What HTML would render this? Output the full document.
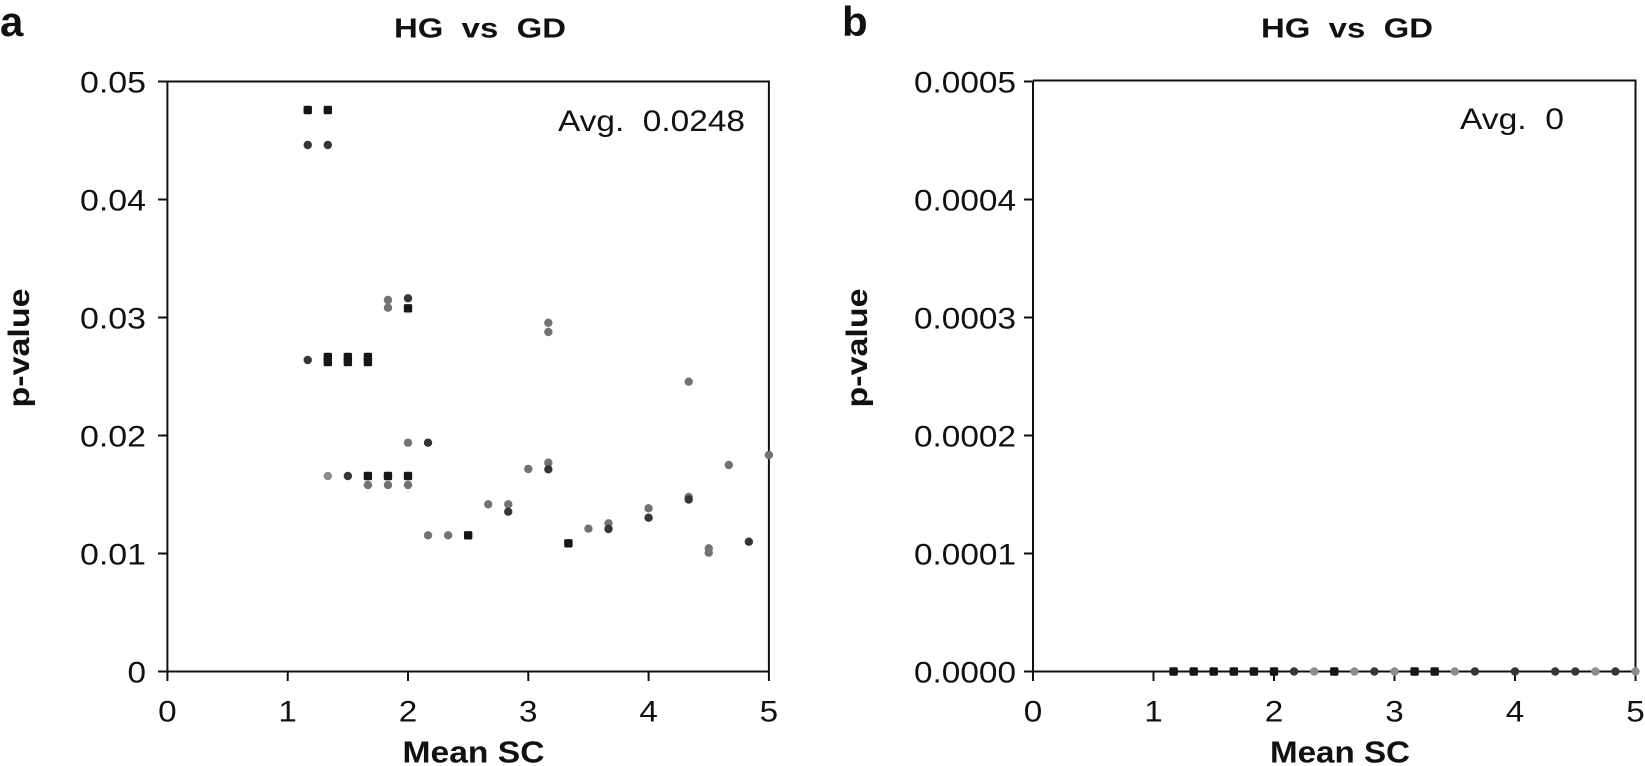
<!DOCTYPE html>
<html>
<head>
<meta charset="utf-8">
<style>
html,body{margin:0;padding:0;background:#fff;}
svg{display:block;}
text{font-family:"Liberation Sans",Arial,sans-serif;fill:#111;}
.b{font-weight:bold;}
</style>
</head>
<body>
<svg width="1645" height="766" viewBox="0 0 1645 766" xmlns="http://www.w3.org/2000/svg">
<defs>
  <rect id="sq" x="-4.2" y="-4.2" width="8.4" height="8.4" rx="1.5" fill="#161616"/>
  <circle id="dk" r="4.2" fill="#363636"/>
  <circle id="gr" r="4.2" fill="#737373"/>
  <circle id="lg" r="4.2" fill="#8c8c8c"/>
</defs>

<!-- ================= PANEL A ================= -->
<text class="b" x="0" y="36" font-size="42">a</text>
<text class="b" x="480" y="37.5" font-size="28" text-anchor="middle" textLength="172" lengthAdjust="spacingAndGlyphs" xml:space="preserve">HG  vs  GD</text>

<!-- frame -->
<g stroke="#111" stroke-width="2" fill="none">
  <line x1="167.4" y1="81.5" x2="167.4" y2="672.5"/>
  <line x1="166.4" y1="671.5" x2="768.9" y2="671.5"/>
  <line x1="167.4" y1="81.5" x2="768.9" y2="81.5"/>
  <line x1="768.9" y1="80.5" x2="768.9" y2="672.5"/>
  <!-- y ticks -->
  <line x1="158" y1="81.5" x2="167.4" y2="81.5"/>
  <line x1="158" y1="199.5" x2="167.4" y2="199.5"/>
  <line x1="158" y1="317.5" x2="167.4" y2="317.5"/>
  <line x1="158" y1="435.5" x2="167.4" y2="435.5"/>
  <line x1="158" y1="553.5" x2="167.4" y2="553.5"/>
  <line x1="158" y1="671.5" x2="167.4" y2="671.5"/>
  <!-- x ticks -->
  <line x1="167.4" y1="671.5" x2="167.4" y2="681"/>
  <line x1="287.7" y1="671.5" x2="287.7" y2="681"/>
  <line x1="408" y1="671.5" x2="408" y2="681"/>
  <line x1="528.3" y1="671.5" x2="528.3" y2="681"/>
  <line x1="648.6" y1="671.5" x2="648.6" y2="681"/>
  <line x1="768.9" y1="671.5" x2="768.9" y2="681"/>
</g>

<g font-size="30" text-anchor="end">
  <text x="146" y="92.5" textLength="66" lengthAdjust="spacingAndGlyphs">0.05</text>
  <text x="146" y="210.5" textLength="66" lengthAdjust="spacingAndGlyphs">0.04</text>
  <text x="146" y="328.5" textLength="66" lengthAdjust="spacingAndGlyphs">0.03</text>
  <text x="146" y="446.5" textLength="66" lengthAdjust="spacingAndGlyphs">0.02</text>
  <text x="146" y="564.5" textLength="66" lengthAdjust="spacingAndGlyphs">0.01</text>
  <text x="146" y="682.5" textLength="18.5" lengthAdjust="spacingAndGlyphs">0</text>
</g>
<g font-size="30" text-anchor="middle">
  <text x="167.4" y="721.5" textLength="18.5" lengthAdjust="spacingAndGlyphs">0</text>
  <text x="287.7" y="721.5" textLength="18.5" lengthAdjust="spacingAndGlyphs">1</text>
  <text x="408" y="721.5" textLength="18.5" lengthAdjust="spacingAndGlyphs">2</text>
  <text x="528.3" y="721.5" textLength="18.5" lengthAdjust="spacingAndGlyphs">3</text>
  <text x="648.6" y="721.5" textLength="18.5" lengthAdjust="spacingAndGlyphs">4</text>
  <text x="768.9" y="721.5" textLength="18.5" lengthAdjust="spacingAndGlyphs">5</text>
</g>
<text class="b" x="473.5" y="762.5" font-size="31" text-anchor="middle" textLength="142" lengthAdjust="spacingAndGlyphs">Mean SC</text>
<text class="b" font-size="30" text-anchor="middle" transform="translate(29,348) rotate(-90)" x="0" y="0" textLength="119" lengthAdjust="spacingAndGlyphs">p-value</text>
<text x="558" y="131" font-size="30" textLength="187" lengthAdjust="spacingAndGlyphs" xml:space="preserve">Avg.  0.0248</text>

<!-- panel A points -->
<g>
  <use href="#sq" x="307.75" y="110"/>
  <use href="#sq" x="327.8" y="110"/>
  <use href="#dk" x="307.75" y="145"/>
  <use href="#dk" x="327.8" y="145"/>

  <use href="#dk" x="307.75" y="360"/>
  <use href="#sq" x="327.8" y="357"/><use href="#sq" x="327.8" y="362"/>
  <use href="#sq" x="347.85" y="357"/><use href="#sq" x="347.85" y="362"/>
  <use href="#sq" x="367.9" y="357"/><use href="#sq" x="367.9" y="362"/>

  <use href="#gr" x="387.95" y="300"/><use href="#gr" x="387.95" y="307.7"/>
  <use href="#dk" x="408" y="298.3"/><use href="#sq" x="408" y="308.3"/>

  <use href="#gr" x="408" y="442.7"/>
  <use href="#dk" x="428.05" y="442.7"/>

  <use href="#gr" x="367.9" y="485"/>
  <use href="#gr" x="387.95" y="485"/>
  <use href="#gr" x="408" y="485"/>
  <use href="#lg" x="327.8" y="476"/>
  <use href="#dk" x="347.85" y="476"/>
  <use href="#sq" x="367.9" y="476"/>
  <use href="#sq" x="387.95" y="476"/>
  <use href="#sq" x="408" y="476"/>

  <use href="#gr" x="548.35" y="322.8"/>
  <use href="#gr" x="548.35" y="332"/>
  <use href="#gr" x="548.35" y="462.7"/>
  <use href="#dk" x="548.35" y="469.3"/>
  <use href="#gr" x="528.3" y="469"/>

  <use href="#gr" x="688.7" y="381.7"/>
  <use href="#gr" x="688.7" y="497"/>
  <use href="#dk" x="688.7" y="499.5"/>

  <use href="#gr" x="488.2" y="504.3"/>
  <use href="#gr" x="508.25" y="504.3"/>
  <use href="#dk" x="508.25" y="511.7"/>

  <use href="#gr" x="428.05" y="535.3"/>
  <use href="#gr" x="448.1" y="535.3"/>
  <use href="#sq" x="468.15" y="535.3"/>

  <use href="#sq" x="568.4" y="543.3"/>
  <use href="#gr" x="588.45" y="528.7"/>
  <use href="#gr" x="608.5" y="523.3"/>
  <use href="#dk" x="608.5" y="529"/>
  <use href="#gr" x="648.6" y="508.3"/>
  <use href="#dk" x="648.6" y="517.7"/>
  <use href="#gr" x="708.75" y="548.3"/>
  <use href="#gr" x="708.75" y="552.7"/>
  <use href="#gr" x="728.8" y="465"/>
  <use href="#dk" x="748.85" y="541.7"/>
  <use href="#gr" x="768.9" y="455"/>
</g>

<!-- ================= PANEL B ================= -->
<text class="b" x="842" y="36" font-size="42">b</text>
<text class="b" x="1347" y="37.5" font-size="28" text-anchor="middle" textLength="172" lengthAdjust="spacingAndGlyphs" xml:space="preserve">HG  vs  GD</text>

<g stroke="#111" stroke-width="2" fill="none">
  <line x1="1033" y1="80.5" x2="1033" y2="672.5"/>
  <line x1="1032" y1="671.5" x2="1635.5" y2="671.5"/>
  <line x1="1033" y1="80.5" x2="1635.5" y2="80.5"/>
  <line x1="1635.5" y1="79.5" x2="1635.5" y2="672.5"/>
  <line x1="1024" y1="81.5" x2="1033" y2="81.5"/>
  <line x1="1024" y1="199.5" x2="1033" y2="199.5"/>
  <line x1="1024" y1="317.5" x2="1033" y2="317.5"/>
  <line x1="1024" y1="435.5" x2="1033" y2="435.5"/>
  <line x1="1024" y1="553.5" x2="1033" y2="553.5"/>
  <line x1="1024" y1="671.5" x2="1033" y2="671.5"/>
  <line x1="1033" y1="671.5" x2="1033" y2="681"/>
  <line x1="1153.5" y1="671.5" x2="1153.5" y2="681"/>
  <line x1="1274" y1="671.5" x2="1274" y2="681"/>
  <line x1="1394.5" y1="671.5" x2="1394.5" y2="681"/>
  <line x1="1515" y1="671.5" x2="1515" y2="681"/>
  <line x1="1635.5" y1="671.5" x2="1635.5" y2="681"/>
</g>

<g font-size="30" text-anchor="end">
  <text x="1016" y="92.5" textLength="102" lengthAdjust="spacingAndGlyphs">0.0005</text>
  <text x="1016" y="210.5" textLength="102" lengthAdjust="spacingAndGlyphs">0.0004</text>
  <text x="1016" y="328.5" textLength="102" lengthAdjust="spacingAndGlyphs">0.0003</text>
  <text x="1016" y="446.5" textLength="102" lengthAdjust="spacingAndGlyphs">0.0002</text>
  <text x="1016" y="564.5" textLength="102" lengthAdjust="spacingAndGlyphs">0.0001</text>
  <text x="1016" y="682.5" textLength="102" lengthAdjust="spacingAndGlyphs">0.0000</text>
</g>
<g font-size="30" text-anchor="middle">
  <text x="1033" y="721.5" textLength="18.5" lengthAdjust="spacingAndGlyphs">0</text>
  <text x="1153.5" y="721.5" textLength="18.5" lengthAdjust="spacingAndGlyphs">1</text>
  <text x="1274" y="721.5" textLength="18.5" lengthAdjust="spacingAndGlyphs">2</text>
  <text x="1394.5" y="721.5" textLength="18.5" lengthAdjust="spacingAndGlyphs">3</text>
  <text x="1515" y="721.5" textLength="18.5" lengthAdjust="spacingAndGlyphs">4</text>
  <text x="1635.5" y="721.5" textLength="18.5" lengthAdjust="spacingAndGlyphs">5</text>
</g>
<text class="b" x="1340" y="762.5" font-size="31" text-anchor="middle" textLength="140" lengthAdjust="spacingAndGlyphs">Mean SC</text>
<text class="b" font-size="30" text-anchor="middle" transform="translate(867,348) rotate(-90)" x="0" y="0" textLength="119" lengthAdjust="spacingAndGlyphs">p-value</text>
<text x="1460" y="129" font-size="30" textLength="104" lengthAdjust="spacingAndGlyphs" xml:space="preserve">Avg.  0</text>

<!-- panel B points -->
<g>
  <use href="#sq" x="1173.6" y="671.5"/>
  <use href="#sq" x="1193.7" y="671.5"/>
  <use href="#sq" x="1213.7" y="671.5"/>
  <use href="#sq" x="1233.8" y="671.5"/>
  <use href="#sq" x="1253.9" y="671.5"/>
  <use href="#sq" x="1274" y="671.5"/>
  <use href="#dk" x="1294.1" y="671.5"/>
  <use href="#lg" x="1314.2" y="671.5"/>
  <use href="#sq" x="1334.3" y="671.5"/>
  <use href="#lg" x="1354.4" y="671.5"/>
  <use href="#dk" x="1374.4" y="671.5"/>
  <use href="#lg" x="1394.5" y="671.5"/>
  <use href="#sq" x="1414.6" y="671.5"/>
  <use href="#sq" x="1434.7" y="671.5"/>
  <use href="#lg" x="1454.8" y="671.5"/>
  <use href="#dk" x="1474.9" y="671.5"/>
  <use href="#dk" x="1515" y="671.5"/>
  <use href="#dk" x="1555.2" y="671.5"/>
  <use href="#dk" x="1575.3" y="671.5"/>
  <use href="#lg" x="1595.4" y="671.5"/>
  <use href="#dk" x="1615.4" y="671.5"/>
  <use href="#lg" x="1635.5" y="671.5"/>
</g>
</svg>
</body>
</html>
